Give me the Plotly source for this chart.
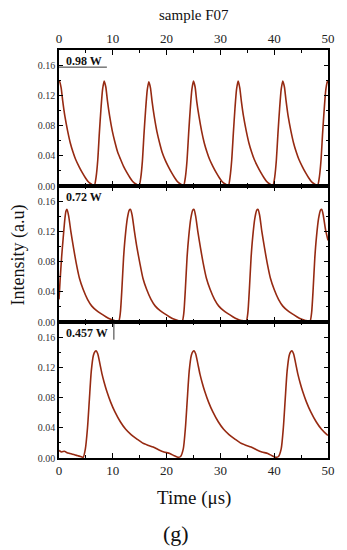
import plotly.graph_objects as go

# ---------------- data ----------------
# Panel 1: 0.98 W
x_098 = [0.0, 0.1, 0.4, 0.7, 1.1, 1.6, 2.1, 2.6, 3.1, 3.7, 4.3, 4.9, 5.4, 5.9, 6.4, 6.6, 6.9, 7.2, 7.5, 7.8, 8.1, 8.4,
         8.7, 9.0, 9.4, 9.9, 10.4, 10.9, 11.4, 12.0, 12.6, 13.2, 13.7, 14.2, 14.7, 14.9, 15.2, 15.5, 15.8, 16.1, 16.4, 16.7,
         17.0, 17.3, 17.7, 18.2, 18.7, 19.2, 19.7, 20.3, 20.9, 21.5, 22.0, 22.5, 23.0, 23.2, 23.5, 23.8, 24.1, 24.4, 24.7, 25.0,
         25.3, 25.6, 26.0, 26.5, 27.0, 27.5, 28.0, 28.6, 29.2, 29.8, 30.3, 30.8, 31.3, 31.5, 31.8, 32.1, 32.4, 32.7, 33.0, 33.3,
         33.6, 33.9, 34.3, 34.8, 35.3, 35.8, 36.3, 36.9, 37.5, 38.1, 38.6, 39.1, 39.6, 39.8, 40.1, 40.4, 40.7, 41.0, 41.3, 41.6,
         41.9, 42.2, 42.6, 43.1, 43.6, 44.1, 44.6, 45.2, 45.8, 46.4, 46.9, 47.4, 47.9, 48.1, 48.4, 48.7, 49.0, 49.3, 49.6, 49.9, 50.0]
y_098 = [0.137, 0.139, 0.130, 0.112, 0.092, 0.073, 0.057, 0.045, 0.035, 0.026, 0.018, 0.011, 0.006, 0.003, 0.001, 0.001, 0.012, 0.034, 0.070, 0.102, 0.128, 0.139,
         0.131, 0.113, 0.093, 0.073, 0.058, 0.045, 0.036, 0.026, 0.018, 0.011, 0.006, 0.003, 0.001, 0.000, 0.011, 0.033, 0.069, 0.101, 0.127, 0.138,
         0.130, 0.112, 0.092, 0.072, 0.057, 0.044, 0.035, 0.026, 0.018, 0.011, 0.006, 0.003, 0.001, 0.001, 0.012, 0.034, 0.070, 0.102, 0.128, 0.139,
         0.131, 0.112, 0.093, 0.073, 0.057, 0.045, 0.035, 0.026, 0.018, 0.011, 0.006, 0.003, 0.001, 0.000, 0.012, 0.034, 0.069, 0.102, 0.128, 0.139,
         0.130, 0.112, 0.092, 0.073, 0.057, 0.045, 0.035, 0.026, 0.018, 0.011, 0.006, 0.003, 0.001, 0.001, 0.012, 0.034, 0.070, 0.102, 0.128, 0.139,
         0.131, 0.113, 0.092, 0.073, 0.057, 0.045, 0.035, 0.026, 0.018, 0.011, 0.006, 0.003, 0.001, 0.001, 0.012, 0.034, 0.070, 0.102, 0.128, 0.139, 0.136]

# Panel 2: 0.72 W
x_072 = [0.0, 0.2, 0.5, 0.8, 1.1, 1.3, 1.5,
         1.8, 2.2, 2.7, 3.2, 3.8, 4.5, 5.3, 6.1, 7.0, 7.8, 8.7, 9.5, 10.3, 11.1, 11.4, 11.7, 12.0, 12.3, 12.7, 13.05, 13.3,
         13.6, 14.0, 14.5, 15.0, 15.6, 16.3, 17.1, 17.9, 18.8, 19.6, 20.5, 21.3, 22.1, 22.9, 23.2, 23.5, 23.8, 24.1, 24.5, 24.85, 25.1,
         25.4, 25.8, 26.3, 26.8, 27.4, 28.1, 28.9, 29.7, 30.6, 31.4, 32.3, 33.1, 33.9, 34.8, 35.1, 35.4, 35.7, 36.0, 36.4, 36.75, 37.0,
         37.3, 37.7, 38.2, 38.7, 39.3, 40.0, 40.8, 41.6, 42.5, 43.3, 44.2, 45.0, 45.8, 46.65, 46.95, 47.25, 47.55, 47.85, 48.25, 48.6, 48.85,
         49.15, 49.55, 50.0]
y_072 = [0.030, 0.055, 0.087, 0.113, 0.137, 0.147, 0.149,
         0.140, 0.120, 0.098, 0.078, 0.058, 0.043, 0.030, 0.021, 0.015, 0.011, 0.007, 0.004, 0.002, 0.001, 0.012, 0.045, 0.085, 0.112, 0.137, 0.148, 0.149,
         0.141, 0.121, 0.098, 0.079, 0.058, 0.043, 0.030, 0.021, 0.015, 0.011, 0.007, 0.004, 0.002, 0.001, 0.012, 0.045, 0.085, 0.112, 0.137, 0.148, 0.149,
         0.140, 0.120, 0.098, 0.078, 0.058, 0.043, 0.030, 0.021, 0.015, 0.011, 0.007, 0.004, 0.002, 0.001, 0.012, 0.045, 0.085, 0.112, 0.137, 0.148, 0.149,
         0.141, 0.120, 0.098, 0.078, 0.058, 0.043, 0.030, 0.021, 0.015, 0.011, 0.007, 0.004, 0.002, 0.001, 0.012, 0.045, 0.085, 0.112, 0.137, 0.148, 0.149,
         0.140, 0.122, 0.108]

# Panel 3: 0.457 W
x_0457 = [0.0, 0.5, 1.0, 1.5, 2.0, 2.5, 3.0, 3.5, 4.0, 4.5, 4.9, 5.3, 5.65, 6.0, 6.4, 6.7, 6.9,
          7.2, 7.6, 8.0, 8.4, 8.9, 9.6, 10.4, 11.4, 12.4, 13.4, 14.5, 15.5, 16.5, 17.5, 18.5, 19.5, 20.6, 21.4, 22.1, 22.6,
          23.1, 23.5, 23.85, 24.2, 24.6, 24.9, 25.1,
          25.4, 25.8, 26.2, 26.6, 27.1, 27.8, 28.6, 29.6, 30.6, 31.6, 32.7, 33.7, 34.7, 35.7, 36.7, 37.7, 38.8, 39.6, 40.3, 40.8,
          41.3, 41.7, 42.05, 42.4, 42.8, 43.1, 43.3,
          43.6, 44.0, 44.4, 44.8, 45.3, 46.0, 46.8, 47.8, 48.8, 49.8, 50.0]
y_0457 = [0.010, 0.008, 0.009, 0.007, 0.006, 0.005, 0.004, 0.003, 0.002, 0.001, 0.012, 0.040, 0.078, 0.115, 0.136, 0.141, 0.142,
          0.138, 0.125, 0.111, 0.100, 0.088, 0.074, 0.061, 0.048, 0.038, 0.031, 0.025, 0.020, 0.017, 0.0145, 0.011, 0.008, 0.006, 0.003, 0.001, 0.002,
          0.012, 0.040, 0.078, 0.115, 0.136, 0.141, 0.142,
          0.138, 0.125, 0.111, 0.100, 0.088, 0.074, 0.061, 0.048, 0.038, 0.031, 0.025, 0.020, 0.017, 0.0145, 0.011, 0.008, 0.006, 0.003, 0.001, 0.002,
          0.012, 0.040, 0.078, 0.115, 0.136, 0.141, 0.142,
          0.138, 0.125, 0.111, 0.100, 0.088, 0.074, 0.061, 0.048, 0.038, 0.031, 0.030]

panel_labels = ["0.98 W", "0.72 W", "0.457 W"]
x_ticks = [0, 10, 20, 30, 40, 50]
y_ticks = [0.00, 0.04, 0.08, 0.12, 0.16]
y_ticktext = ["0.00", "0.04", "0.08", "0.12", "0.16"]

# ---------------- figure ----------------
LINE = "#962a12"
SERIF = "Liberation Serif"

fig = go.Figure()
for xs, ys, xa, ya in [(x_098, y_098, "x", "y"), (x_072, y_072, "x2", "y2"), (x_0457, y_0457, "x3", "y3")]:
    fig.add_trace(go.Scatter(x=xs, y=ys, xaxis=xa, yaxis=ya, mode="lines",
                             line=dict(color=LINE, width=1.6, shape="spline", smoothing=0.6),
                             showlegend=False, hoverinfo="skip"))

common_x = dict(range=[0, 50], tickvals=x_ticks, ticks="inside", ticklen=5, tickwidth=1.3,
                tickcolor="black", showline=True, linecolor="black", linewidth=1.6,
                mirror="allticks", showgrid=False, zeroline=False,
                minor=dict(ticks="inside", ticklen=3, tickwidth=1, tickcolor="black", dtick=5, tick0=0),
                tickfont=dict(family=SERIF, size=13, color="#222"))
common_y = dict(range=[0, 0.18], tickvals=y_ticks, ticktext=y_ticktext, ticks="inside", ticklen=4,
                tickwidth=1.3, tickcolor="black", showline=True, linecolor="black", linewidth=1.6,
                mirror="allticks", showgrid=False, zeroline=False,
                minor=dict(ticks="inside", ticklen=2.5, tickwidth=1, tickcolor="black", dtick=0.02, tick0=0),
                tickfont=dict(family=SERIF, size=10, color="#333"))

# the page body adds an 8px offset, so the figure is 8px smaller than the window
fig.update_layout(
    width=339, height=542,
    margin=dict(l=51, r=14, t=42, b=92),
    paper_bgcolor="white", plot_bgcolor="white",
    xaxis=dict(common_x, anchor="y", side="top", showticklabels=True),
    xaxis2=dict(common_x, anchor="y2", showticklabels=False),
    xaxis3=dict(common_x, anchor="y3", side="bottom", showticklabels=True),
    yaxis=dict(common_y, domain=[2/3, 1.0], anchor="x"),
    yaxis2=dict(common_y, domain=[1/3, 2/3], anchor="x2"),
    yaxis3=dict(common_y, domain=[0.0, 1/3], anchor="x3"),
)

ann = [
    dict(text="sample F07", x=0.5, y=1.086, font=dict(family=SERIF, size=15, color="#111")),
    dict(text="Time (μs)", x=0.5, y=-0.098, font=dict(family=SERIF, size=19, color="#111")),
    dict(text="(g)", x=0.434, y=-0.184, font=dict(family=SERIF, size=22, color="#111")),
    dict(text="Intensity (a.u)", x=-0.151, y=0.4975, textangle=-90,
         font=dict(family=SERIF, size=18, color="#111")),
    dict(text="<b>%s</b>" % panel_labels[0], x=0.018, y=0.973, xanchor="left",
         font=dict(family=SERIF, size=12, color="#111")),
    dict(text="<b>%s</b>" % panel_labels[1], x=0.018, y=0.64, xanchor="left",
         font=dict(family=SERIF, size=12, color="#111")),
    dict(text="<b>%s</b>" % panel_labels[2], x=0.018, y=0.306, xanchor="left",
         font=dict(family=SERIF, size=12, color="#111")),
]
for a in ann:
    a.setdefault("xanchor", "center")
    fig.add_annotation(xref="paper", yref="paper", showarrow=False, yanchor="middle", **a)

# legend-box remnants seen in the reference
fig.add_shape(type="line", xref="paper", yref="paper", x0=0.0, x1=0.178, y0=0.958, y1=0.958,
              line=dict(color="#333", width=1))
fig.add_shape(type="line", xref="paper", yref="paper", x0=0.204, x1=0.204, y0=0.29, y1=0.33,
              line=dict(color="#333", width=1))

fig.write_html("out.html")
